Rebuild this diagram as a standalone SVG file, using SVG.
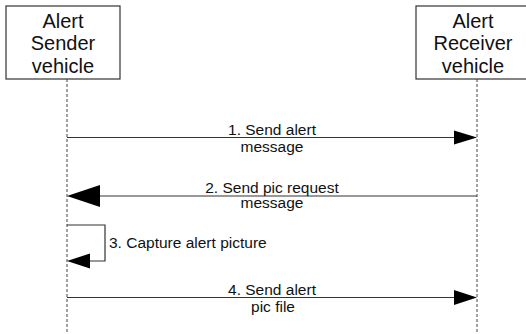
<svg xmlns="http://www.w3.org/2000/svg" width="526" height="334" viewBox="0 0 526 334">
  <style>
    .box { fill: #ffffff; stroke: #333333; stroke-width: 1.2; }
    .life { stroke: #444444; stroke-width: 1; stroke-dasharray: 3 2; fill: none; }
    .msg { stroke: #333333; stroke-width: 1.2; fill: none; }
    .head { fill: #000000; }
    .title { font-family: "Liberation Sans", Arial, sans-serif; font-size: 20px; fill: #111111; text-anchor: middle; }
    .lbl { font-family: "Liberation Sans", Arial, sans-serif; font-size: 15.5px; fill: #111111; text-anchor: middle; }
  </style>
  <rect width="526" height="334" fill="#ffffff"/>

  <g id="sender">
    <rect class="box" x="6" y="6" width="114" height="73"/>
    <text class="title" x="63" y="28">Alert</text>
    <text class="title" x="63" y="50">Sender</text>
    <text class="title" x="63" y="73">vehicle</text>
    <line class="life" x1="67" y1="79" x2="67" y2="334"/>
  </g>

  <g id="receiver">
    <rect class="box" x="416" y="6" width="116" height="73"/>
    <text class="title" x="473" y="28">Alert</text>
    <text class="title" x="473" y="50">Receiver</text>
    <text class="title" x="473" y="73">vehicle</text>
    <line class="life" x1="477" y1="79" x2="477" y2="334"/>
  </g>

  <g id="connectors">
    <!-- 1. sender to receiver -->
    <line class="msg" x1="67" y1="137.5" x2="456" y2="137.5"/>
    <polygon class="head" points="477,137.5 454,130.5 454,144.5"/>
    <text class="lbl" x="272" y="135">1. Send alert</text>
    <text class="lbl" x="272" y="151.5">message</text>

    <!-- 2. receiver to sender -->
    <line class="msg" x1="477" y1="196" x2="98" y2="196"/>
    <polygon class="head" points="67,196 100,185 100,207"/>
    <text class="lbl" x="272" y="192.5">2. Send pic request</text>
    <text class="lbl" x="272" y="208">message</text>

    <!-- 3. self call -->
    <polyline class="msg" points="67,225 105,225 105,261 88,261"/>
    <polygon class="head" points="67,261 90,253.5 90,268.5"/>
    <text class="lbl" x="109" y="248" text-anchor="start" style="text-anchor:start">3. Capture alert picture</text>

    <!-- 4. sender to receiver -->
    <line class="msg" x1="67" y1="297.5" x2="456" y2="297.5"/>
    <polygon class="head" points="477,297.5 454,290 454,305"/>
    <text class="lbl" x="272" y="294.5">4. Send alert</text>
    <text class="lbl" x="273" y="311.5">pic file</text>
  </g>
</svg>
